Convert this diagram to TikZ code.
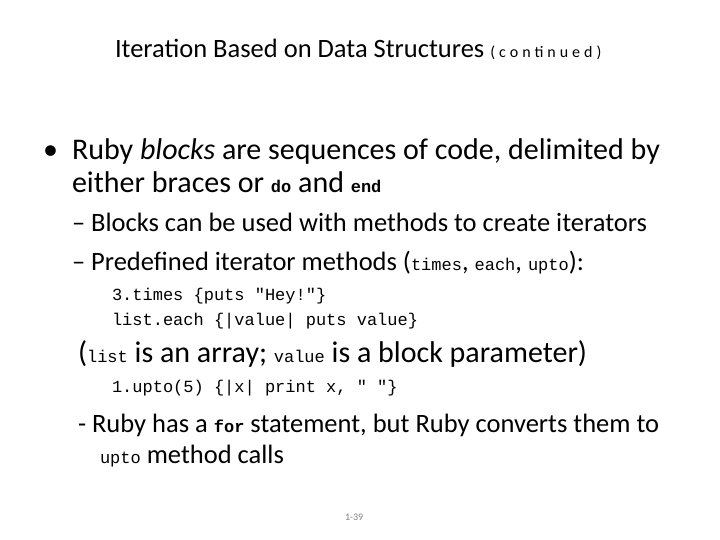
\documentclass[tikz,border=0pt]{standalone}
\usepackage{fontspec}
\setmainfont{Carlito}
\setmonofont{Liberation Mono}
\newcommand{\mcode}[1]{{\fontsize{17}{20}\selectfont\ttfamily #1}}
\begin{document}
\begin{tikzpicture}[x=1pt,y=-1pt,
  txt/.style={anchor=base west,inner sep=0pt,outer sep=0pt},
  big/.style={txt,font=\fontsize{30}{36}\selectfont},
  mid/.style={txt,font=\fontsize{26.5}{31}\selectfont},
  code/.style={txt,font=\fontsize{17}{20}\selectfont\ttfamily}]
\useasboundingbox[fill=white] (0,0) rectangle (720,540);
\node[txt,font=\fontsize{26.5}{30}\selectfont] (title) at (115,58) {Iteration Based on Data Structures {\fontsize{16}{18}\selectfont\addfontfeatures{LetterSpace=25}(continued)}};
\node[big] (b1) at (43,160) {•};
\node[big] (l1) at (72,160) {Ruby \textit{blocks} are sequences of code, delimited by};
\node[big] (l2) at (72,193) {either braces or \mcode{\bfseries do} and \mcode{\bfseries end}};
\node[mid] (l3) at (72,232) {– Blocks can be used with methods to create iterators};
\node[mid] (l4) at (72,270) {– Predefined iterator methods (\mcode{times}, \mcode{each}, \mcode{upto}):};
\node[code] (c1) at (112,300) {3.times \{puts "Hey!"\}};
\node[code] (c2) at (112,325) {list.each \{|value| puts value\}};
\node[big] (l5) at (78,362) {(\mcode{list} is an array; \mcode{value} is a block parameter)};
\node[code] (c3) at (112,392) {1.upto(5) \{|x| print x, " "\}};
\node[mid] (l6) at (78,432) {- Ruby has a \mcode{\bfseries for} statement, but Ruby converts them to};
\node[mid] (l7) at (100,463) {\mcode{upto} method calls};
\node[txt,font=\fontsize{10}{12}\selectfont,text=gray] (pg) at (345,520) {1-39};
\end{tikzpicture}
\end{document}
